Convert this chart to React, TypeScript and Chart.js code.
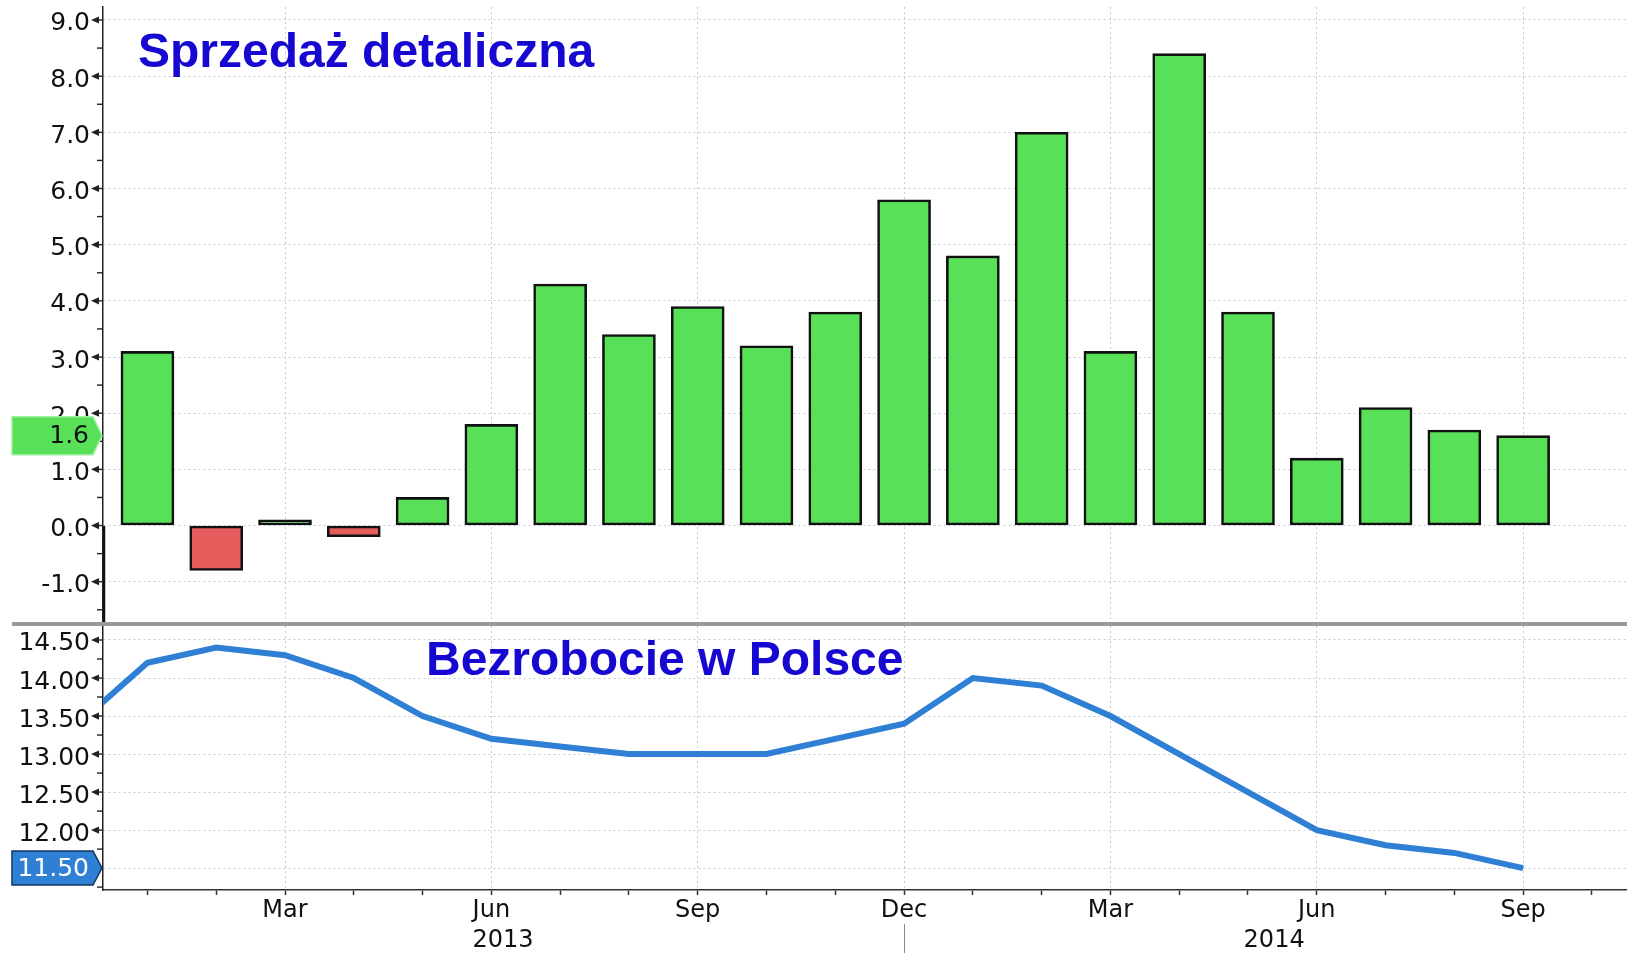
import React, { useEffect, useRef } from 'react';
import { Chart, registerables } from 'chart.js';

Chart.register(...registerables);

// ---------------- DATA ----------------
const monthNames = [
  'Dec 2012', 'Jan 2013', 'Feb 2013', 'Mar 2013', 'Apr 2013', 'May 2013', 'Jun 2013',
  'Jul 2013', 'Aug 2013', 'Sep 2013', 'Oct 2013', 'Nov 2013', 'Dec 2013',
  'Jan 2014', 'Feb 2014', 'Mar 2014', 'Apr 2014', 'May 2014', 'Jun 2014',
  'Jul 2014', 'Aug 2014', 'Sep 2014',
];
// month position on the time axis (Jan 2013 = 0)
const monthIndex = [-1, 0, 1, 2, 3, 4, 5, 6, 7, 8, 9, 10, 11, 12, 13, 14, 15, 16, 17, 18, 19, 20];
const retailSales = [-2.5, 3.1, -0.8, 0.1, -0.2, 0.5, 1.8, 4.3, 3.4, 3.9, 3.2, 3.8, 5.8, 4.8, 7.0, 3.1, 8.4, 3.8, 1.2, 2.1, 1.7, 1.6];
const unemployment = [13.4, 14.2, 14.4, 14.3, 14.0, 13.5, 13.2, 13.1, 13.0, 13.0, 13.0, 13.2, 13.4, 14.0, 13.9, 13.5, 13.0, 12.5, 12.0, 11.8, 11.7, 11.5];

const xTickMonths = [0, 1, 2, 3, 4, 5, 6, 7, 8, 9, 10, 11, 12, 13, 14, 15, 16, 17, 18, 19, 20, 21];
const xLabelMonths = [2, 5, 8, 11, 14, 17, 20];
const xLabelText = ['Mar', 'Jun', 'Sep', 'Dec', 'Mar', 'Jun', 'Sep'];
const yearText = ['2013', '2014'];
const yearMonthPos = [5.17, 16.38];
const yearSeparatorMonth = 11;

const retailTicks = [-1, 0, 1, 2, 3, 4, 5, 6, 7, 8, 9];
const unempTicks = [11.5, 12, 12.5, 13, 13.5, 14, 14.5];

const topTitle = 'Sprzedaż detaliczna';
const bottomTitle = 'Bezrobocie w Polsce';

// ---------------- STYLE / LAYOUT ----------------
const W = 1627;
const TOP_H = 624;
const BOTTOM_TOP = 626;
const BOTTOM_H = 953 - BOTTOM_TOP;
const X_MIN = -0.646;
const X_MAX = 21.51;
const FONT = '"DejaVu Sans", Verdana, sans-serif';
const TITLE_FONT = 'bold 48px "Liberation Sans", Arial, sans-serif';
const TITLE_COLOR = '#1608d0';
const GRID = '#c2c8d6';
const AXIS = '#222';
const TEXT = '#111';
const GREEN = '#58e058';
const RED = '#e55c5c';
const LINE_BLUE = '#2f7fd4';

function minorValues(majors: number[], min: number, max: number) {
  const out: number[] = [];
  const step = majors[1] - majors[0];
  for (let i = -1; i < majors.length; i++) {
    const v = (i < 0 ? majors[0] - step : majors[i]) + step / 2;
    if (v > min && v < max && !majors.includes(v)) out.push(v);
  }
  return out;
}

function zeroPad(s: any) {
  s.paddingTop = 0;
  s.paddingBottom = 0;
  s.paddingLeft = 0;
  s.paddingRight = 0;
}

function yMarksPlugin(minors: number[]) {
  return {
    id: 'ymarks',
    afterDraw(chart: any) {
      const s = chart.scales.y;
      const ctx = chart.ctx;
      const x0 = s.right;
      ctx.save();
      ctx.fillStyle = AXIS;
      ctx.strokeStyle = AXIS;
      ctx.lineWidth = 1.4;
      s.ticks.forEach((t: any) => {
        const y = s.getPixelForValue(t.value);
        ctx.beginPath();
        ctx.moveTo(x0 - 12, y);
        ctx.lineTo(x0 - 4, y - 3.6);
        ctx.lineTo(x0 - 4, y + 3.6);
        ctx.closePath();
        ctx.fill();
        ctx.beginPath();
        ctx.moveTo(x0 - 5, y);
        ctx.lineTo(x0, y);
        ctx.stroke();
      });
      minors.forEach((v) => {
        const y = s.getPixelForValue(v);
        ctx.beginPath();
        ctx.moveTo(x0 - 6, y);
        ctx.lineTo(x0, y);
        ctx.stroke();
      });
      ctx.restore();
    },
  };
}

function badgePlugin(value: number, text: string, fill: string, stroke: string, color: string, halfH: number) {
  return {
    id: 'badge',
    afterDraw(chart: any) {
      const s = chart.scales.y;
      const ctx = chart.ctx;
      const y = s.getPixelForValue(value);
      const x1 = 12, x2 = 93, tip = 102;
      ctx.save();
      ctx.beginPath();
      ctx.moveTo(x1, y - halfH);
      ctx.lineTo(x2, y - halfH);
      ctx.lineTo(tip, y);
      ctx.lineTo(x2, y + halfH);
      ctx.lineTo(x1, y + halfH);
      ctx.closePath();
      ctx.fillStyle = fill;
      ctx.fill();
      ctx.lineWidth = 1.5;
      ctx.strokeStyle = stroke;
      ctx.stroke();
      ctx.fillStyle = color;
      ctx.font = `25px ${FONT}`;
      ctx.textAlign = 'right';
      ctx.textBaseline = 'middle';
      ctx.fillText(text, 89, y + 1);
      ctx.restore();
    },
  };
}

function titlePlugin(text: string, x: number, baseline: number) {
  return {
    id: 'title',
    afterDraw(chart: any) {
      const ctx = chart.ctx;
      ctx.save();
      ctx.font = TITLE_FONT;
      ctx.fillStyle = TITLE_COLOR;
      ctx.textAlign = 'left';
      ctx.textBaseline = 'alphabetic';
      ctx.fillText(text, x, baseline);
      ctx.restore();
    },
  };
}

const yearPlugin = {
  id: 'years',
  afterDraw(chart: any) {
    const s = chart.scales.x;
    const ctx = chart.ctx;
    ctx.save();
    ctx.font = `24px ${FONT}`;
    ctx.fillStyle = TEXT;
    ctx.textAlign = 'center';
    ctx.textBaseline = 'alphabetic';
    yearText.forEach((t, i) => {
      ctx.fillText(t, s.getPixelForValue(yearMonthPos[i]), 321);
    });
    const xs = Math.round(s.getPixelForValue(yearSeparatorMonth)) + 0.5;
    ctx.strokeStyle = '#888';
    ctx.lineWidth = 1;
    ctx.beginPath();
    ctx.moveTo(xs, 298);
    ctx.lineTo(xs, BOTTOM_H);
    ctx.stroke();
    ctx.restore();
  },
};

function yScale(ticksArr: number[], min: number, max: number, fmt: (v: number) => string) {
  return {
    type: 'linear',
    position: 'left',
    min,
    max,
    afterBuildTicks: (s: any) => {
      s.ticks = ticksArr.map((v) => ({ value: v }));
    },
    afterFit: (s: any) => {
      s.width = 103;
      zeroPad(s);
    },
    ticks: {
      font: { family: FONT, size: 25 },
      color: TEXT,
      padding: 13,
      labelOffset: 4,
      callback: (v: any) => fmt(Number(v)),
    },
    grid: { color: GRID, lineWidth: 1, drawTicks: false },
    border: { color: AXIS, width: 1.5, dash: [2, 3] },
  };
}

export default function App() {
  const topRef = useRef<HTMLCanvasElement>(null);
  const bottomRef = useRef<HTMLCanvasElement>(null);

  useEffect(() => {
    const topMin = -1.753, topMax = 9.2314;
    const botMin = 11.212, botMax = 14.684;

    const top = new Chart(topRef.current!, {
      type: 'bar',
      data: {
        datasets: [
          {
            label: topTitle,
            data: monthIndex.map((x, i) => ({ x, y: retailSales[i] })),
            backgroundColor: retailSales.map((v) => (v < 0 ? RED : GREEN)),
            borderColor: '#111',
            borderWidth: 2.6,
            borderSkipped: false,
            barThickness: 53,
          } as any,
        ],
      },
      options: {
        animation: false,
        responsive: false,
        maintainAspectRatio: false,
        layout: { padding: { top: 7, bottom: 0, left: 0, right: 0 } },
        plugins: { legend: { display: false }, tooltip: { enabled: false } },
        scales: {
          x: {
            type: 'linear',
            min: X_MIN,
            max: X_MAX,
            offset: false,
            afterBuildTicks: (s: any) => {
              s.ticks = xLabelMonths.map((v) => ({ value: v }));
            },
            afterFit: (s: any) => {
              s.height = 0;
              zeroPad(s);
            },
            ticks: { display: false },
            grid: { color: GRID, lineWidth: 1, drawTicks: false, offset: false },
            border: { display: false, dash: [2, 3] },
          },
          y: yScale(retailTicks, topMin, topMax, (v) => v.toFixed(1)),
        } as any,
      },
      plugins: [
        yMarksPlugin(minorValues(retailTicks, topMin, topMax)),
        titlePlugin(topTitle, 138, 67),
        badgePlugin(retailSales[retailSales.length - 1], retailSales[retailSales.length - 1].toFixed(1), GREEN, '#9ff09f', '#111', 19),
      ],
    });

    const bottom = new Chart(bottomRef.current!, {
      type: 'line',
      data: {
        datasets: [
          {
            label: bottomTitle,
            data: monthIndex.map((x, i) => ({ x, y: unemployment[i] })),
            borderColor: LINE_BLUE,
            borderWidth: 6,
            pointRadius: 0,
            tension: 0,
            fill: false,
          },
        ],
      },
      options: {
        animation: false,
        responsive: false,
        maintainAspectRatio: false,
        layout: { padding: { top: 0, bottom: 0, left: 0, right: 0 } },
        plugins: { legend: { display: false }, tooltip: { enabled: false } },
        scales: {
          x: {
            type: 'linear',
            min: X_MIN,
            max: X_MAX,
            offset: false,
            afterBuildTicks: (s: any) => {
              s.ticks = xTickMonths.map((v) => ({ value: v }));
            },
            afterFit: (s: any) => {
              s.height = 63;
              zeroPad(s);
            },
            ticks: {
              autoSkip: false,
              maxRotation: 0,
              minRotation: 0,
              font: { family: FONT, size: 24 },
              color: TEXT,
              padding: 1,
              callback: (v: any) => {
                const i = xLabelMonths.indexOf(Number(v));
                return i >= 0 ? xLabelText[i] : '';
              },
            },
            grid: {
              color: (ctx: any) => (ctx.tick && xLabelMonths.includes(ctx.tick.value) ? GRID : 'rgba(0,0,0,0)'),
              tickColor: '#333',
              tickLength: 5,
              tickWidth: 1.5,
              lineWidth: 1,
              offset: false,
            },
            border: { display: true, color: '#333', width: 1.5, dash: [2, 3] },
          },
          y: yScale(unempTicks, botMin, botMax, (v) => (v === 11.5 ? '' : v.toFixed(2))),
        } as any,
      },
      plugins: [
        yMarksPlugin(minorValues(unempTicks, botMin, botMax)),
        titlePlugin(bottomTitle, 426, 49),
        yearPlugin,
        badgePlugin(unemployment[unemployment.length - 1], unemployment[unemployment.length - 1].toFixed(2), LINE_BLUE, '#15375f', '#fff', 17),
      ],
    });

    return () => {
      top.destroy();
      bottom.destroy();
    };
  }, []);

  return (
    <div style={{ position: 'absolute', left: 0, top: 0, width: W, height: 953, background: '#fff', overflow: 'hidden' }}>
      <canvas ref={topRef} width={W} height={TOP_H} style={{ position: 'absolute', left: 0, top: 0 }} />
      <canvas ref={bottomRef} width={W} height={BOTTOM_H} style={{ position: 'absolute', left: 0, top: BOTTOM_TOP }} />
      <div style={{ position: 'absolute', left: 12, top: 622, width: W - 12, height: 4, background: '#9a9a9a' }} />
    </div>
  );
}
